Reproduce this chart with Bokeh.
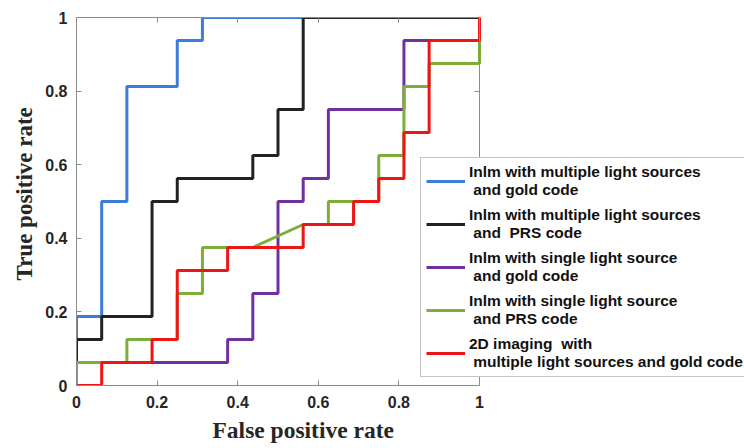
from bokeh.plotting import figure
from bokeh.models import LinearAxis, Legend, LegendItem, FixedTicker, Range1d, Title
from bokeh.embed import file_html
from bokeh.resources import INLINE

# ROC step curves (false positive rate, true positive rate)
blue_x = [0, 0, 0.0625, 0.0625, 0.125, 0.125, 0.25, 0.25, 0.3125, 0.3125, 1]
blue_y = [0, 0.1875, 0.1875, 0.5, 0.5, 0.8125, 0.8125, 0.9375, 0.9375, 1, 1]

black_x = [0, 0, 0.0625, 0.0625, 0.1875, 0.1875, 0.25, 0.25, 0.4375, 0.4375, 0.5, 0.5, 0.5625, 0.5625, 1]
black_y = [0, 0.125, 0.125, 0.1875, 0.1875, 0.5, 0.5, 0.5625, 0.5625, 0.625, 0.625, 0.75, 0.75, 1, 1]

purple_x = [0, 0, 0.375, 0.375, 0.4375, 0.4375, 0.5, 0.5, 0.5625, 0.5625, 0.625, 0.625, 0.8125, 0.8125, 1, 1]
purple_y = [0, 0.0625, 0.0625, 0.125, 0.125, 0.25, 0.25, 0.5, 0.5, 0.5625, 0.5625, 0.75, 0.75, 0.9375, 0.9375, 1]

green_x = [0, 0, 0.125, 0.125, 0.25, 0.25, 0.3125, 0.3125, 0.4375, 0.5625, 0.625, 0.625, 0.75, 0.75, 0.8125, 0.8125, 0.875, 0.875, 1, 1]
green_y = [0, 0.0625, 0.0625, 0.125, 0.125, 0.25, 0.25, 0.375, 0.375, 0.4375, 0.4375, 0.5, 0.5, 0.625, 0.625, 0.8125, 0.8125, 0.875, 0.875, 1]

red_x = [0, 0.0625, 0.0625, 0.1875, 0.1875, 0.25, 0.25, 0.375, 0.375, 0.5625, 0.5625, 0.6875, 0.6875, 0.75, 0.75, 0.8125, 0.8125, 0.875, 0.875, 1, 1]
red_y = [0, 0, 0.0625, 0.0625, 0.125, 0.125, 0.3125, 0.3125, 0.375, 0.375, 0.4375, 0.4375, 0.5, 0.5, 0.5625, 0.5625, 0.6875, 0.6875, 0.9375, 0.9375, 1]

labels = [
    "Inlm with multiple light sources\n and gold code",
    "Inlm with multiple light sources\n and  PRS code",
    "Inlm with single light source\n and gold code",
    "Inlm with single light source\n and PRS code",
    "2D imaging  with\n multiple light sources and gold code",
]
colors = ["#3b7dd8", "#222222", "#7030a0", "#7cae3a", "#ee1515"]
ticks = [0, 0.2, 0.4, 0.6, 0.8, 1]
x_label = "False positive rate"
y_label = "True positive rate"

# layout: the axes box spans 403 px of a 668 px wide frame, so the legend may run past it
BOX_PX = 403
FRAME_PX = 744 - 76
AXIS = "#8c8c8c"

p = figure(width=744, height=448, output_backend="svg", toolbar_location=None,
           x_range=Range1d(0, FRAME_PX / BOX_PX), y_range=Range1d(0, 1),
           min_border_left=76, min_border_right=0, min_border_top=17, min_border_bottom=63)
p.grid.visible = False
p.outline_line_color = None
p.background_fill_color = "white"
p.border_fill_color = "white"

series = [(blue_x, blue_y), (black_x, black_y), (purple_x, purple_y), (green_x, green_y), (red_x, red_y)]
renderers = []
for (xs, ys), c in zip(series, colors):
    renderers.append(p.line(xs, ys, line_color=c, line_width=3))


def style(ax):
    ax.ticker = FixedTicker(ticks=ticks)
    ax.bounds = (0, 1)
    ax.minor_tick_line_color = None
    ax.axis_line_color = AXIS
    ax.major_tick_line_color = AXIS
    ax.major_tick_in = 5
    ax.major_tick_out = 0


for ax in (p.xaxis[0], p.yaxis[0]):
    style(ax)
    ax.major_label_text_font = "Liberation Sans"
    ax.major_label_text_font_style = "bold"
    ax.major_label_text_font_size = "16px"
    ax.major_label_text_color = "#262626"
    ax.major_label_standoff = 9
    ax.major_label_overrides = {0: "0", 1: "1"}
p.xaxis[0].major_label_standoff = 10

# box: top edge and right edge with inward ticks, no labels
top = LinearAxis(major_label_overrides={t: "" for t in ticks}, major_label_standoff=0)
style(top)
p.add_layout(top, "above")
right = LinearAxis(major_label_overrides={t: "" for t in ticks}, major_label_standoff=0,
                   fixed_location=1)
style(right)
right.major_tick_in = 0
right.major_tick_out = 5
p.add_layout(right, "left")

p.add_layout(Title(text=y_label, align="left", offset=105, standoff=12,
                   text_font="Liberation Serif", text_font_style="bold",
                   text_font_size="23px", text_color="#262626"), "left")
p.add_layout(Title(text=x_label, align="left", offset=136, standoff=9,
                   text_font="Liberation Serif", text_font_style="bold",
                   text_font_size="23.5px", text_color="#262626"), "below")

items = [LegendItem(label=l, renderers=[r]) for l, r in zip(labels, renderers)]
legend = Legend(items=items, location=(344, 8),
                label_text_font="Liberation Sans", label_text_font_style="bold",
                label_text_font_size="15.5px", label_text_color="#111111",
                label_text_line_height=2.6,
                glyph_width=39, glyph_height=20, spacing=7, padding=5, margin=0,
                label_standoff=4,
                border_line_color=AXIS, border_line_width=1,
                background_fill_color="white", background_fill_alpha=1.0)
p.add_layout(legend, "center")

open("out.html", "w").write(file_html(p, INLINE))
